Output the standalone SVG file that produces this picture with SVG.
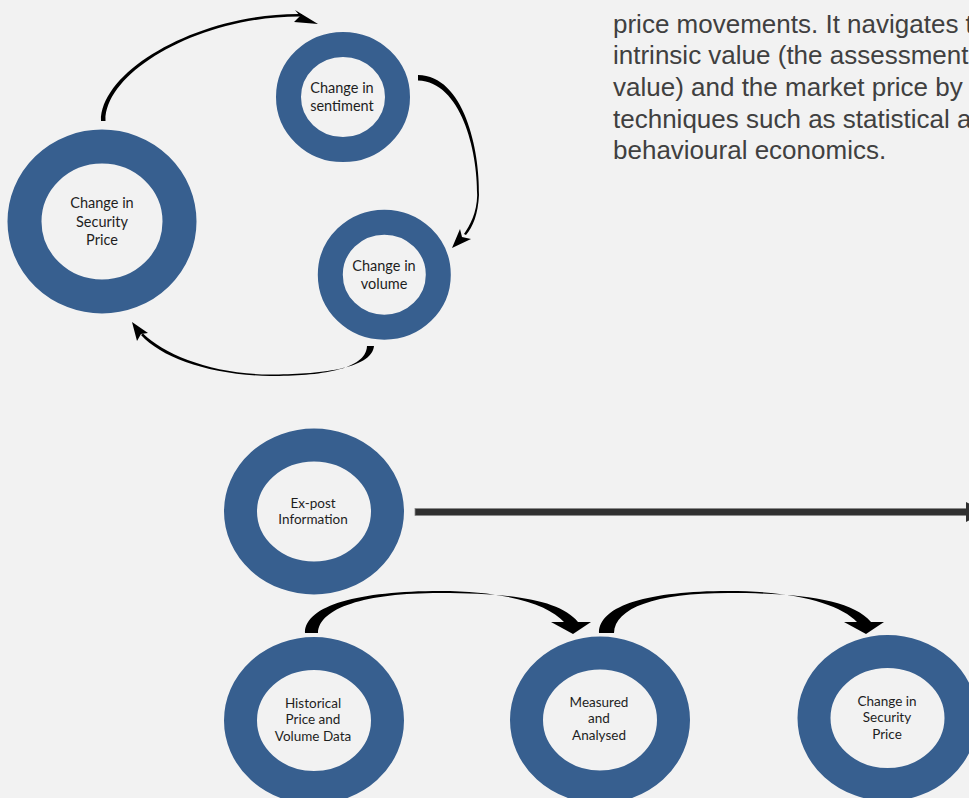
<svg xmlns="http://www.w3.org/2000/svg" width="969" height="798" viewBox="0 0 969 798">
<style>
.ring{fill:none;stroke:#375F8F}
.lbl{font-family:Lato,"Open Sans","Noto Sans",sans-serif;fill:#1e1e1e;text-anchor:middle}
.t{font-size:14.5px}
.b{font-size:13.5px}
.body{font-family:"Liberation Sans",Arial,sans-serif;font-size:26px;fill:#404040}
.ink{fill:#000}
</style>
<rect width="969" height="798" fill="#F2F2F2"/>
<text class="body" x="613" y="33">price movements. It navigates t</text>
<text class="body" x="613" y="64">intrinsic value (the assessment</text>
<text class="body" x="613" y="96">value) and the market price by</text>
<text class="body" x="613" y="128">techniques such as statistical a</text>
<text class="body" x="613" y="159">behavioural economics.</text>

<g id="connectors">
<!-- top cycle -->
<path class="ink" d="M101 121 C100.5 70 200 12.5 302 14 L302 16.5 C200 15.5 104.5 72 105.5 121 Z"/>
<path class="ink" d="M318 24 L295 10 L300 16 L294 22 Z"/>
<path class="ink" d="M418 75 C464 75.5 480 150 479 195 C478 214 473 227 466 235 L464 234 C470 225 476.8 213 477.2 195 C477.6 150 461 82 418 80.5 Z"/>
<path class="ink" d="M452 248 L460 229 L462 237 L471 239 Z"/>
<path class="ink" d="M367 346 C366 370 320 376 270 376 C210 375 162 358 141 335 L143 333.5 C165 355 212 374 270 374.5 C318 374.5 372 369 374 346 Z"/>
<path class="ink" d="M132 322 L148 333 L141 334 L137 341 Z"/>
<!-- bottom -->
<rect x="415" y="508.5" width="553" height="7" fill="#303030" stroke="#8a8a8a" stroke-width="0.8"/>
<path d="M966 502 L986 512 L966 522 Z" fill="#303030"/>
<path class="ink" d="M305 633 C305 605 360 591 440 591 C505 591 548 604 564 622 L578 622 C560 600 512 593 440 593 C365 593 319 608 318 633 Z"/>
<path class="ink" d="M551 622 L591 622 L573 634 Z"/>
<path class="ink" d="M599 633 C599 605 650 591 728 591 C795 591 840 604 857 622 L871 622 C852 600 802 593 728 593 C655 593 615 608 614 633 Z"/>
<path class="ink" d="M844 622 L884 622 L866 634 Z"/>
</g>

<g id="n_price_top">
<ellipse class="ring" cx="102" cy="221.5" rx="77.5" ry="75" stroke-width="34"/>
<text class="lbl t" x="102" y="208">Change in</text>
<text class="lbl t" x="102" y="226.5">Security</text>
<text class="lbl t" x="102" y="245">Price</text>
</g>
<g id="n_sentiment">
<ellipse class="ring" cx="343" cy="97" rx="54.5" ry="52.6" stroke-width="25"/>
<text class="lbl t" x="342" y="92.5">Change in</text>
<text class="lbl t" x="342" y="111">sentiment</text>
</g>
<g id="n_volume">
<ellipse class="ring" cx="384.3" cy="274.7" rx="54" ry="52.5" stroke-width="25"/>
<text class="lbl t" x="384" y="270.5">Change in</text>
<text class="lbl t" x="384" y="288.5">volume</text>
</g>
<g id="n_expost">
<ellipse class="ring" cx="314" cy="511.5" rx="73.5" ry="66.5" stroke-width="33"/>
<text class="lbl b" x="313" y="507.5">Ex-post</text>
<text class="lbl b" x="313" y="524">Information</text>
</g>
<g id="n_historical">
<ellipse class="ring" cx="314" cy="720.5" rx="73.5" ry="67" stroke-width="33"/>
<text class="lbl b" x="313" y="707.5">Historical</text>
<text class="lbl b" x="313" y="724">Price and</text>
<text class="lbl b" x="313" y="740.5">Volume Data</text>
</g>
<g id="n_measured">
<ellipse class="ring" cx="600" cy="720" rx="73.5" ry="67" stroke-width="33"/>
<text class="lbl b" x="599" y="706.5">Measured</text>
<text class="lbl b" x="599" y="723">and</text>
<text class="lbl b" x="599" y="739.5">Analysed</text>
</g>
<g id="n_price_bottom">
<ellipse class="ring" cx="887.5" cy="718" rx="73.5" ry="66.5" stroke-width="33"/>
<text class="lbl b" x="887" y="706">Change in</text>
<text class="lbl b" x="887" y="722">Security</text>
<text class="lbl b" x="887" y="738.5">Price</text>
</g>
</svg>
